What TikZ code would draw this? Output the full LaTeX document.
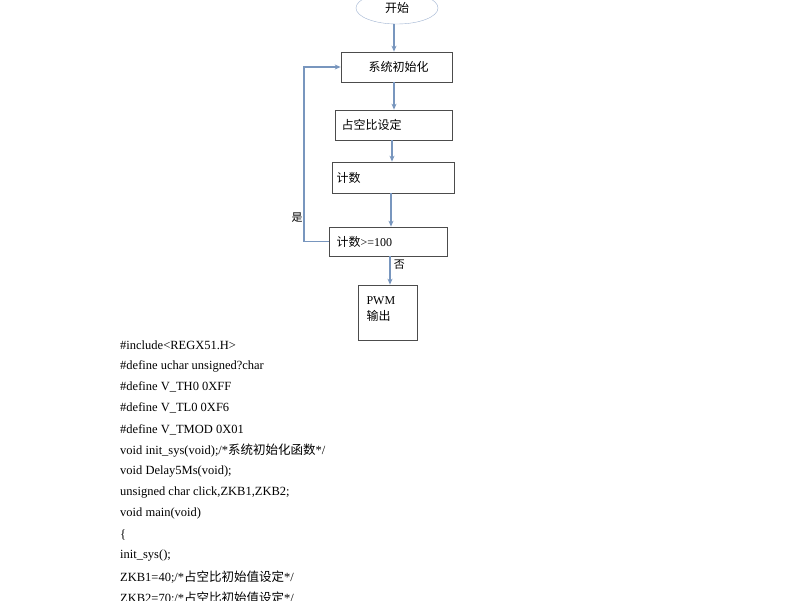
\documentclass[tikz,border=0pt]{standalone}
\usepackage{fontspec}
\setmainfont{Liberation Serif}
\newfontfamily\cjk{Noto Sans CJK SC}
\usetikzlibrary{shapes.geometric,arrows.meta}
\begin{document}
\begin{tikzpicture}[x=1pt,y=-1pt,
    box/.style={draw=black!70,line width=0.7pt,rectangle,inner sep=0pt,font=\fontsize{12}{14}\selectfont},
    flow/.style={draw={rgb,255:red,120;green,150;blue,190},line width=1.1pt,-{Stealth[length=6pt,width=5pt]}},
    code/.style={anchor=west,inner sep=0pt,font=\fontsize{12.5}{14}\selectfont}]
  \useasboundingbox (0,0) rectangle (800,600);
  \fill[white] (0,0) rectangle (800,600);

  % flow chart
  \node[ellipse,draw={rgb,255:red,160;green,180;blue,210},minimum width=82pt,minimum height=32pt,
        font=\fontsize{12}{14}\selectfont] (start) at (397,8) {\cjk 开始};
  \node[box,minimum width=111pt,minimum height=30pt] (init) at (396.5,67) {\hspace*{4pt}\cjk 系统初始化\hfill};
  \node[box,minimum width=117pt,minimum height=30pt] (duty) at (393.5,125) {};
  \node[anchor=west,font=\fontsize{12}{14}\selectfont] at (338,125) {\cjk 占空比设定};
  \node[box,minimum width=122pt,minimum height=31pt] (count) at (393,177.5) {};
  \node[anchor=west,font=\fontsize{12}{14}\selectfont] at (333,177.5) {\cjk 计数};
  \node[box,minimum width=118pt,minimum height=29pt] (check) at (388,241.5) {};
  \node[anchor=west,font=\fontsize{12}{14}\selectfont] at (333,241.5) {{\cjk 计数}>=100};
  \node[box,minimum width=59pt,minimum height=55pt] (pwm) at (387.5,312.5) {};
  \node[anchor=north west,align=left,font=\fontsize{12}{16}\selectfont] at (363,293) {PWM\\{\cjk 输出}};

  \draw[flow] (start.south -| 394,0) -- (init.north -| 394,0);
  \draw[flow] (init.south -| 394,0) -- (duty.north -| 394,0);
  \draw[flow] (duty.south -| 392,0) -- (count.north -| 392,0);
  \draw[flow] (count.south -| 391,0) -- (check.north -| 391,0);
  \draw[flow] (check.south -| 390,0) -- node[right,pos=0.3,font=\fontsize{11}{12}\selectfont] {\cjk 否} (pwm.north -| 390,0);
  \draw[flow] (check.west) -- (304,241.5) -- (304,67) -- (init.west);
  \node[font=\fontsize{11}{12}\selectfont] (yes) at (297,218) {\cjk 是};

  % program listing
  \foreach \txt [count=\i from 0] in {
      {\#include<REGX51.H>},
      {\#define uchar unsigned?char},
      {\#define V\_TH0 0XFF},
      {\#define V\_TL0 0XF6},
      {\#define V\_TMOD 0X01},
      {void init\_sys(void);/*{\cjk 系统初始化函数}*/},
      {void Delay5Ms(void);},
      {unsigned char click,ZKB1,ZKB2;},
      {void main(void)},
      {\{},
      {init\_sys();},
      {ZKB1=40;/*{\cjk 占空比初始值设定}*/},
      {ZKB2=70;/*{\cjk 占空比初始值设定}*/}}
    \node[code] (line\i) at (120,345+21.1*\i) {\txt};
\end{tikzpicture}
\end{document}
